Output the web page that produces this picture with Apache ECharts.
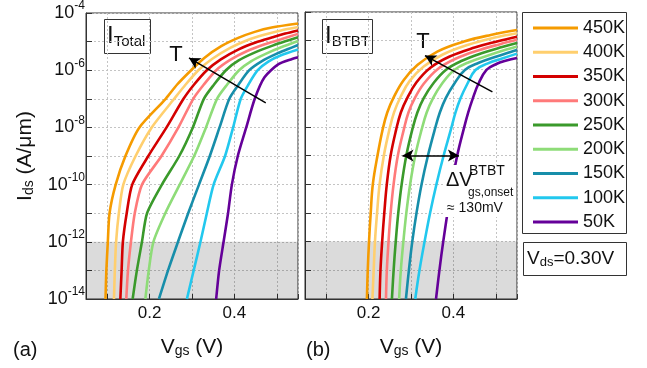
<!DOCTYPE html>
<html>
<head>
<meta charset="utf-8">
<script src="https://cdn.jsdelivr.net/npm/echarts@6/dist/echarts.min.js"></script>
<style>
  html, body { margin: 0; padding: 0; background: #ffffff; }
  #chart { width: 647px; height: 368px; }
</style>
</head>
<body>
<div id="chart"></div>
<script>
// Temperatures shown in the legend, hottest first
const temps = ['450K', '400K', '350K', '300K', '250K', '200K', '150K', '100K', '50K'];

// (a) total drain current: [Vgs (V), log10 Ids (A/um)]
const total450K = [[0.096, -14], [0.098, -13], [0.1015, -12], [0.1055, -11], [0.12, -10], [0.143, -9], [0.176, -8], [0.238, -7], [0.265, -6.5], [0.298, -6], [0.329, -5.57], [0.369, -5.16], [0.409, -4.87], [0.448, -4.66], [0.488, -4.51], [0.55, -4.37]];
const total400K = [[0.116, -14], [0.118, -13], [0.121, -12], [0.1275, -11], [0.138, -10], [0.167, -9], [0.205, -8], [0.258, -7], [0.285, -6.5], [0.315, -6], [0.348, -5.6], [0.39, -5.22], [0.43, -4.95], [0.47, -4.76], [0.51, -4.61], [0.55, -4.49]];
const total350K = [[0.131, -14], [0.134, -13], [0.137, -12], [0.146, -11], [0.159, -10], [0.197, -9], [0.24, -8], [0.28, -7], [0.305, -6.5], [0.335, -6], [0.368, -5.62], [0.41, -5.27], [0.45, -5.03], [0.49, -4.85], [0.52, -4.72], [0.55, -4.61]];
const total300K = [[0.145, -14], [0.149, -13], [0.156, -12], [0.165, -11], [0.182, -10], [0.228, -9], [0.268, -8], [0.303, -7], [0.328, -6.5], [0.357, -6], [0.39, -5.64], [0.43, -5.33], [0.47, -5.1], [0.51, -4.92], [0.55, -4.73]];
const total250K = [[0.16, -14], [0.17, -13], [0.182, -12], [0.194, -11], [0.229, -10], [0.27, -9], [0.302, -8], [0.328, -7], [0.352, -6.5], [0.38, -6], [0.41, -5.66], [0.45, -5.37], [0.49, -5.14], [0.52, -4.99], [0.55, -4.85]];
const total200K = [[0.19, -14], [0.198, -13], [0.209, -12], [0.237, -11], [0.271, -10], [0.305, -9], [0.333, -8], [0.359, -7], [0.383, -6.5], [0.411, -6], [0.44, -5.68], [0.475, -5.42], [0.51, -5.2], [0.55, -4.98]];
const total150K = [[0.222, -14], [0.2435, -13], [0.267, -12], [0.291, -11], [0.3165, -10], [0.342, -9], [0.365, -8], [0.388, -7], [0.41, -6.5], [0.435, -6], [0.465, -5.68], [0.5, -5.42], [0.525, -5.27], [0.55, -5.12]];
const total100K = [[0.288, -14], [0.304, -13], [0.32, -12], [0.335, -11], [0.351, -10], [0.378, -9], [0.397, -8], [0.415, -7], [0.433, -6.5], [0.455, -6], [0.48, -5.7], [0.51, -5.48], [0.55, -5.28]];
const total50K  = [[0.357, -14], [0.364, -13], [0.3745, -12], [0.385, -11], [0.394, -10], [0.408, -9], [0.428, -8], [0.448, -7], [0.471, -6.25], [0.504, -5.79], [0.536, -5.61], [0.55, -5.55]];

// (b) band-to-band tunnelling component: [Vgs (V), log10 Ids (A/um)]
const btbt450K = [[0.196, -14], [0.198, -13], [0.201, -12], [0.205, -11], [0.21, -10], [0.221, -9], [0.233, -8.1], [0.244, -7.5], [0.26, -6.95], [0.283, -6.37], [0.315, -5.85], [0.362, -5.38], [0.425, -5.03], [0.488, -4.8], [0.55, -4.63]];
const btbt400K = [[0.209, -14], [0.212, -13], [0.215, -12], [0.22, -11], [0.226, -10], [0.236, -9], [0.249, -8.1], [0.26, -7.5], [0.275, -6.97], [0.297, -6.4], [0.33, -5.9], [0.375, -5.48], [0.435, -5.14], [0.495, -4.9], [0.55, -4.74]];
const btbt350K = [[0.226, -14], [0.228, -13], [0.232, -12], [0.237, -11], [0.243, -10], [0.252, -9], [0.265, -8.1], [0.276, -7.5], [0.291, -7], [0.313, -6.45], [0.345, -5.95], [0.39, -5.56], [0.45, -5.24], [0.505, -5.02], [0.55, -4.86]];
const btbt300K = [[0.241, -14], [0.243, -13], [0.247, -12], [0.252, -11], [0.259, -10], [0.269, -9], [0.283, -8.1], [0.294, -7.5], [0.309, -7], [0.33, -6.5], [0.362, -6], [0.405, -5.63], [0.46, -5.33], [0.51, -5.12], [0.55, -4.97]];
const btbt250K = [[0.255, -14], [0.259, -13], [0.264, -12], [0.27, -11], [0.278, -10], [0.289, -9], [0.303, -8.1], [0.315, -7.5], [0.33, -7], [0.352, -6.5], [0.382, -6.02], [0.42, -5.7], [0.47, -5.42], [0.515, -5.22], [0.55, -5.08]];
const btbt200K = [[0.272, -14], [0.276, -13], [0.282, -12], [0.289, -11], [0.298, -10], [0.31, -9], [0.325, -8.1], [0.337, -7.5], [0.352, -7], [0.373, -6.5], [0.402, -6.02], [0.438, -5.74], [0.485, -5.5], [0.525, -5.31], [0.55, -5.2]];
const btbt150K = [[0.288, -14], [0.295, -13], [0.303, -12], [0.313, -11], [0.325, -10], [0.34, -9], [0.356, -8.1], [0.368, -7.5], [0.382, -7], [0.402, -6.5], [0.427, -6.02], [0.46, -5.77], [0.5, -5.56], [0.535, -5.39], [0.55, -5.32]];
const btbt100K = [[0.31, -14], [0.32, -13], [0.332, -12], [0.345, -11], [0.36, -10], [0.377, -9], [0.394, -8.1], [0.405, -7.5], [0.417, -7], [0.433, -6.5], [0.452, -6.02], [0.48, -5.8], [0.515, -5.62], [0.55, -5.45]];
const btbt50K  = [[0.359, -14], [0.367, -13], [0.376, -12], [0.386, -11], [0.396, -10], [0.409, -9], [0.424, -8.1], [0.435, -7.5], [0.446, -7], [0.459, -6.5], [0.478, -6.02], [0.5, -5.82], [0.525, -5.69], [0.55, -5.6]];

const totalCurves = [total450K, total400K, total350K, total300K, total250K, total200K, total150K, total100K, total50K];
const btbtCurves = [btbt450K, btbt400K, btbt350K, btbt300K, btbt250K, btbt200K, btbt150K, btbt100K, btbt50K];

// Axis ranges and labelled ticks
const vgsRange = [0.05, 0.55];
const vgsLabels = [0.2, 0.4];
const decadeRange = [-14, -4];   // log10(Ids)
const noiseFloorDecade = -12;    // measurement floor, shaded below

const colors = ['#f59b00', '#ffcf6e', '#d40000', '#ff7a7a', '#3a9a2b', '#8edc78', '#178eaa', '#22c8ee', '#650099'];

const FONT = 'Liberation Sans, Arial, sans-serif';
const INK = '#111111';
const FRAME = '#333333';

const chart = echarts.init(document.getElementById('chart'), null, { renderer: 'canvas' });

function curveSeries(name, pts, idx, color, smooth) {
  return {
    type: 'line', name: name, xAxisIndex: idx, yAxisIndex: idx,
    data: pts,
    showSymbol: false, symbol: 'none', smooth: smooth,
    lineStyle: { color: color, width: 2.6 }, itemStyle: { color: color },
    silent: true, animation: false, z: 3
  };
}

function xAxisFor(idx) {
  return {
    type: 'value', gridIndex: idx, min: vgsRange[0], max: vgsRange[1], splitNumber: 5,
    axisLine: { show: true, onZero: false, lineStyle: { color: FRAME, width: 1 } },
    axisTick: { show: true, inside: true, length: 5, lineStyle: { color: FRAME } },
    axisLabel: {
      margin: 6, fontSize: 17, color: INK, fontFamily: FONT,
      formatter: v => vgsLabels.some(l => Math.abs(l - v) < 1e-6) ? v.toFixed(1) : ''
    },
    splitLine: { show: true, lineStyle: { color: '#c4c4c4', width: 1, type: [2, 2] } },
    name: 'V{s|gs} (V)', nameLocation: 'middle', nameGap: 38,
    nameTextStyle: {
      fontSize: 21, color: INK, fontFamily: FONT,
      rich: { s: { fontSize: 14, color: INK, fontFamily: FONT, verticalAlign: 'bottom', lineHeight: 14 } }
    }
  };
}

function yAxisFor(idx) {
  const ax = {
    type: 'value', gridIndex: idx, min: decadeRange[0], max: decadeRange[1], interval: 1,
    axisLine: { show: true, onZero: false, lineStyle: { color: FRAME, width: 1 } },
    axisTick: { show: true, inside: true, length: 6, lineStyle: { color: FRAME } },
    axisLabel: {
      show: idx === 0, margin: 1, fontSize: 18, color: INK, fontFamily: FONT, lineHeight: 26,
      formatter: v => (Math.round(v) % 2 === 0) ? '10{e|' + Math.round(v) + '}' : '',
      rich: { e: { fontSize: 12, color: INK, fontFamily: FONT, verticalAlign: 'top', lineHeight: 12 } }
    },
    splitLine: { show: true, lineStyle: { color: '#c4c4c4', width: 1, type: [2, 2] } }
  };
  if (idx === 0) {
    ax.name = 'I{s|ds} (A/\u03bcm)';
    ax.nameLocation = 'middle';
    ax.nameRotate = 90;
    ax.nameGap = 50;
    ax.nameTextStyle = {
      fontSize: 21, color: INK, fontFamily: FONT,
      rich: { s: { fontSize: 14, color: INK, fontFamily: FONT, verticalAlign: 'bottom', lineHeight: 14 } }
    };
  }
  return ax;
}

// Shading of the floor region plus the annotation arrows of each panel
function overlaySeries(idx, arrows) {
  return {
    type: 'line', xAxisIndex: idx, yAxisIndex: idx, data: [], silent: true, animation: false, z: 4,
    markArea: {
      silent: true, z: 1,
      itemStyle: { color: 'rgba(0,0,0,0.14)' },
      data: [[{ yAxis: decadeRange[0] }, { yAxis: noiseFloorDecade }]]
    },
    markLine: {
      silent: true, animation: false, precision: 4,
      symbol: ['none', 'arrow'], symbolSize: [9, 11],
      label: { show: false },
      lineStyle: { color: '#000000', width: 1.5, type: 'solid' },
      emphasis: { disabled: true },
      data: arrows
    }
  };
}

const arrowsA = [
  [{ coord: [0.474, -7.14], symbol: 'none' }, { coord: [0.293, -5.57], symbol: 'arrow' }]
];
const arrowsB = [
  [{ coord: [0.492, -6.78], symbol: 'none' }, { coord: [0.333, -5.52], symbol: 'arrow' }],
  [{ coord: [0.28, -9.0], symbol: 'arrow' }, { coord: [0.413, -9.0], symbol: 'arrow' }]
];

const series = [];
temps.forEach((t, i) => series.push(curveSeries(t, totalCurves[i], 0, colors[i], 0.25)));
temps.forEach((t, i) => series.push(curveSeries(t, btbtCurves[i], 1, colors[i], 0.4)));
series.push(overlaySeries(0, arrowsA));
series.push(overlaySeries(1, arrowsB));

const boxStyle = { fill: 'none', stroke: FRAME, lineWidth: 1 };

chart.setOption({
  animation: false,
  backgroundColor: '#ffffff',
  textStyle: { fontFamily: FONT },
  grid: [
    { left: 86, top: 12, width: 212, height: 287, show: true, borderColor: FRAME, borderWidth: 1, containLabel: false },
    { left: 305, top: 12, width: 212, height: 287, show: true, borderColor: FRAME, borderWidth: 1, containLabel: false }
  ],
  xAxis: [xAxisFor(0), xAxisFor(1)],
  yAxis: [yAxisFor(0), yAxisFor(1)],
  legend: {
    data: temps, orient: 'vertical', left: 528, top: 14,
    itemWidth: 45, itemHeight: 3, itemGap: 6.25, icon: 'rect',
    selectedMode: false,
    textStyle: { fontSize: 18, lineHeight: 18, color: INK, fontFamily: FONT }
  },
  series: series,
  graphic: [
    // legend frame
    { type: 'rect', silent: true, shape: { x: 522.5, y: 12.5, width: 104, height: 221 }, style: boxStyle },
    // bias condition box
    { type: 'rect', silent: true, shape: { x: 523.5, y: 242.5, width: 103, height: 33 }, style: boxStyle },
    { type: 'text', silent: true, x: 527, y: 259,
      style: { text: 'V{s|ds}=0.30V', fill: INK, font: '19px ' + FONT, align: 'left', verticalAlign: 'middle',
               rich: { s: { fontSize: 13, fontFamily: FONT, fill: INK, verticalAlign: 'bottom', lineHeight: 13 } } } },
    // panel titles
    { type: 'rect', silent: true, shape: { x: 104.5, y: 19.5, width: 46, height: 34 }, style: boxStyle },
    { type: 'text', silent: true, x: 107, y: 36,
      style: { text: '{i|I}{s|Total}', fill: INK, align: 'left', verticalAlign: 'middle',
               rich: { i: { fontSize: 24, fontFamily: FONT, fill: INK, lineHeight: 26 },
                       s: { fontSize: 15, fontFamily: FONT, fill: INK, verticalAlign: 'bottom', lineHeight: 15 } } } },
    { type: 'rect', silent: true, shape: { x: 322.5, y: 19.5, width: 50, height: 34 }, style: boxStyle },
    { type: 'text', silent: true, x: 325, y: 36,
      style: { text: '{i|I}{s|BTBT}', fill: INK, align: 'left', verticalAlign: 'middle',
               rich: { i: { fontSize: 24, fontFamily: FONT, fill: INK, lineHeight: 26 },
                       s: { fontSize: 15, fontFamily: FONT, fill: INK, verticalAlign: 'bottom', lineHeight: 15 } } } },
    // temperature direction labels
    { type: 'text', silent: true, x: 176, y: 55, style: { text: 'T', fill: INK, font: '22px ' + FONT, align: 'center', verticalAlign: 'middle' } },
    { type: 'text', silent: true, x: 423, y: 42, style: { text: 'T', fill: INK, font: '22px ' + FONT, align: 'center', verticalAlign: 'middle' } },
    // onset shift annotation
    { type: 'rect', silent: true, z: 10, shape: { x: 445, y: 165, width: 70, height: 52 }, style: { fill: '#ffffff' } },
    { type: 'text', silent: true, z: 11, x: 446, y: 180, style: { text: '\u0394V', fill: INK, font: '20px ' + FONT, align: 'left', verticalAlign: 'middle' } },
    { type: 'text', silent: true, z: 11, x: 469, y: 171, style: { text: 'BTBT', fill: INK, font: '14px ' + FONT, align: 'left', verticalAlign: 'middle' } },
    { type: 'text', silent: true, z: 11, x: 468, y: 193, style: { text: 'gs,onset', fill: INK, font: '12px ' + FONT, align: 'left', verticalAlign: 'middle' } },
    { type: 'text', silent: true, z: 11, x: 447, y: 208, style: { text: '\u2248 130mV', fill: INK, font: '14px ' + FONT, align: 'left', verticalAlign: 'middle' } },
    // panel tags
    { type: 'text', silent: true, x: 13, y: 350, style: { text: '(a)', fill: INK, font: '20px ' + FONT, align: 'left', verticalAlign: 'middle' } },
    { type: 'text', silent: true, x: 306, y: 350, style: { text: '(b)', fill: INK, font: '20px ' + FONT, align: 'left', verticalAlign: 'middle' } }
  ]
});
</script>
</body>
</html>
